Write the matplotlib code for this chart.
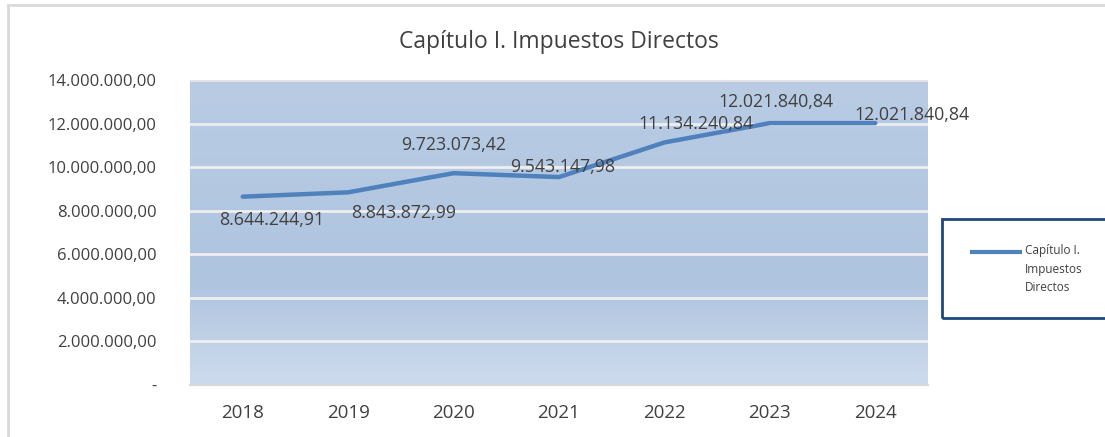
import numpy as np
import matplotlib.pyplot as plt
from matplotlib.patches import Rectangle
from matplotlib.lines import Line2D
from matplotlib.colors import LinearSegmentedColormap

years = ['2018', '2019', '2020', '2021', '2022', '2023', '2024']
valores = [8644244.91, 8843872.99, 9723073.42, 9543147.98,
           11134240.84, 12021840.84, 12021840.84]
etiquetas = ['8.644.244,91', '8.843.872,99', '9.723.073,42', '9.543.147,98',
             '11.134.240,84', '12.021.840,84', '12.021.840,84']
yticks = [0, 2e6, 4e6, 6e6, 8e6, 10e6, 12e6, 14e6]
ytick_labels = ['-', '2.000.000,00', '4.000.000,00', '6.000.000,00',
                '8.000.000,00', '10.000.000,00', '12.000.000,00', '14.000.000,00']

plt.rcParams['font.family'] = ['Open Sans', 'DejaVu Sans']

W, H = 1105, 437
fig = plt.figure(figsize=(W / 100, H / 100), dpi=100)

# marco exterior
fig.patches.append(Rectangle((8 / W, -0.1), 1.2, 1 - 5 / H + 0.1, transform=fig.transFigure,
                             fill=False, edgecolor='#d9d9d9', linewidth=2))

ax = fig.add_axes([190 / W, 52 / H, 738 / W, 305 / H])
x = np.arange(len(years))
ax.set_xlim(-0.5, len(years) - 0.5)
ax.set_ylim(0, 14e6)

# fondo degradado
cmap = LinearSegmentedColormap.from_list('fondo', ['#cddbed', '#afc4df', '#b4c8e2', '#b9cce4'])
grad = np.linspace(0, 1, 256).reshape(-1, 1)
ax.imshow(grad, aspect='auto', cmap=cmap, origin='lower',
          extent=[-0.5, len(years) - 0.5, 0, 14e6], zorder=0)

for v in yticks[1:]:
    ax.axhline(v, color='#eeeeee' if v < 14e6 else '#e3e3e3', linewidth=2, zorder=1)

ax.plot(x, valores, color='#4f81bd', linewidth=3.2, solid_capstyle='round', zorder=3)

offsets = [(29, -23), (55, -21), (0, 28), (4, 10), (31, 18), (6, 21), (37, 8)]
for xi, v, t, off in zip(x, valores, etiquetas, offsets):
    ax.annotate(t, (xi, v), xytext=off, textcoords='offset pixels',
                ha='center', va='center', fontsize=12.8, color='#404040', zorder=4)

for s in ['top', 'right', 'left']:
    ax.spines[s].set_visible(False)
ax.spines['bottom'].set_color('#d9d9d9')
ax.spines['bottom'].set_linewidth(1.5)

ax.set_xticks(x)
ax.set_xticklabels(years, fontsize=13.5, color='#404040')
ax.set_yticks(yticks)
ax.set_yticklabels(ytick_labels, fontsize=12, color='#404040')
ax.tick_params(length=0)
ax.tick_params(axis='x', pad=14)
ax.tick_params(axis='y', pad=24)

fig.text(559 / W, 1 - 42 / H, 'Capítulo I. Impuestos Directos', ha='center', va='center',
         fontsize=16.5, color='#404040')

# leyenda
fig.patches.append(Rectangle((942 / W, 1 - 318 / H), 0.2, 99 / H, transform=fig.transFigure,
                             fill=False, edgecolor='#1f497d', linewidth=2))
fig.lines.append(Line2D([972 / W, 1020 / W], [1 - 252 / H, 1 - 252 / H], transform=fig.transFigure,
                        color='#4f81bd', linewidth=3))
fig.text(1025 / W, 1 - 269 / H, 'Capítulo I.\nImpuestos\nDirectos', ha='left', va='center',
         fontsize=8.5, color='#404040', linespacing=1.55)

fig.savefig('out.png', dpi=100)
